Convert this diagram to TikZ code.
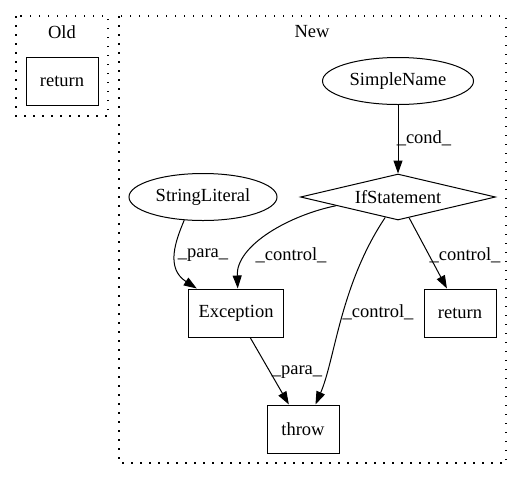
\documentclass[tikz,border=0pt]{standalone}
\usepackage{fontspec}
\setmainfont{Liberation Serif}
\usetikzlibrary{shapes.geometric,arrows.meta}
\begin{document}
\begin{tikzpicture}[x=1pt,y=-1pt,
  every node/.style={font=\fontsize{18.5}{22}\selectfont, inner sep=0pt},
  box/.style={draw, line width=1pt, minimum width=72pt, minimum height=48pt},
  ell/.style={draw, line width=1pt, ellipse, minimum width=151pt, minimum height=47pt},
  dia/.style={draw, line width=1pt, diamond, aspect=4.2, minimum width=195pt, minimum height=46pt},
  cluster/.style={draw, line width=1.2pt, dash pattern=on 1.5pt off 7.5pt},
  edge/.style={draw, line width=1pt, -{Triangle[length=13pt,width=9pt]}},
  lbl/.style={fill=none}
]
\useasboundingbox (0,0) rectangle (527,480);
\draw[cluster] (16,16) rectangle (108,116);
\draw[cluster] (119,16) rectangle (506,463);
\node[lbl] (oldlbl) at (62,32) {Old};
\node[lbl] (newlbl) at (312,32) {New};

\node[box] (oldret) at (62,81) {return};
\node[ell] (sn) at (398,81) {SimpleName};
\node[dia] (if) at (398,197) {IfStatement};
\node[ell, minimum width=148pt] (sl) at (203,197) {StringLiteral};
\node[box, minimum width=95pt] (ex) at (236,313) {Exception};
\node[box] (ret) at (460,313) {return};
\node[box] (th) at (303,429) {throw};

\draw[edge] (sn) -- (if);
\draw[edge] (sl.-129) .. controls (176,240) and (165,268) .. (ex.148);
\draw[edge] (if.-172) .. controls (290,215) and (236,245) .. (ex.86);
\draw[edge] (if.-122) .. controls (340,285) and (335,360) .. (th.63);
\draw[edge] (if) -- (ret);
\draw[edge] (ex) -- (th);

\node[lbl] (l1) at (424,138) {\_cond\_};
\node[lbl] (l2) at (203,255) {\_para\_};
\node[lbl] (l3) at (291,255) {\_control\_};
\node[lbl] (l4) at (465,255) {\_control\_};
\node[lbl] (l5) at (378,312) {\_control\_};
\node[lbl] (l6) at (297,372) {\_para\_};
\end{tikzpicture}
\end{document}
